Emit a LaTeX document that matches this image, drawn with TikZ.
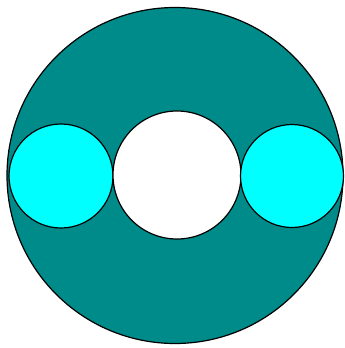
\documentclass[tikz,border=0pt]{standalone}
\definecolor{tealfill}{RGB}{0,139,139}
\definecolor{cyanfill}{RGB}{0,255,255}
\begin{document}
\begin{tikzpicture}[x=1pt,y=-1pt,
  ring/.style={draw=black,line width=1.2pt}]
\useasboundingbox (0,0) rectangle (345,348);
\fill[white] (0,0) rectangle (345,348);
\draw[ring,fill=tealfill] (175,175.5) circle[radius=168];
\draw[ring,fill=cyanfill] (61,176) circle[radius=52];
\draw[ring,fill=white] (177,175) circle[radius=64];
\draw[ring,fill=cyanfill] (292,176) circle[radius=51.5];
\end{tikzpicture}
\end{document}
